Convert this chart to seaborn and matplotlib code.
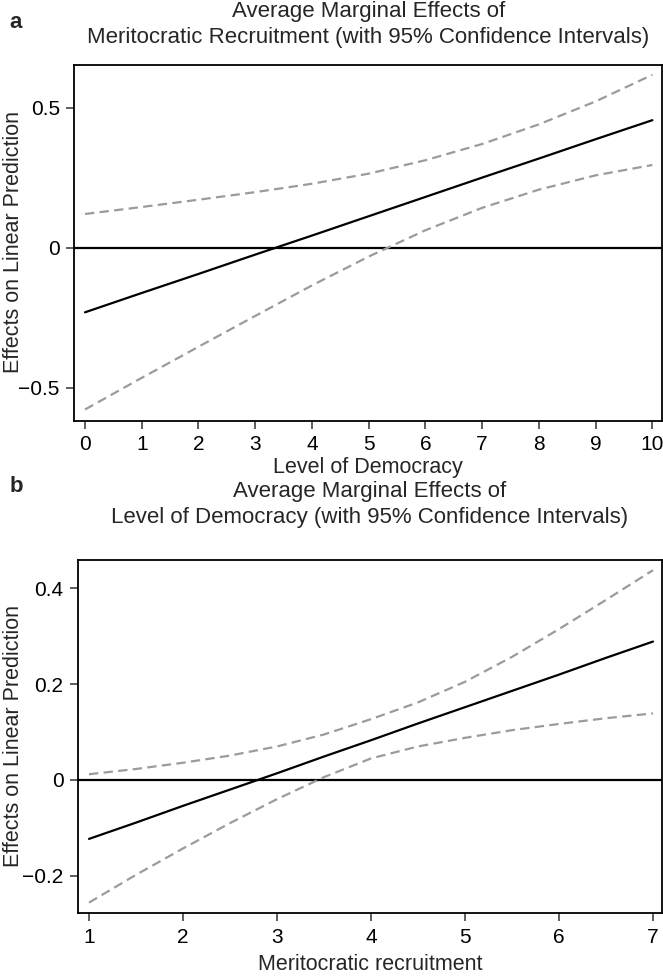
import matplotlib
matplotlib.use("Agg")
import matplotlib.pyplot as plt
import pandas as pd
import seaborn as sns

# ---------------- data ----------------
# Panel a: AME of meritocratic recruitment over level of democracy
democracy = [0, 1, 2, 3, 4, 5, 6, 7, 8, 9, 10]
a_effect = [-0.231, -0.162, -0.094, -0.025, 0.043, 0.112, 0.181, 0.250, 0.318, 0.387, 0.455]
a_upper = [0.120, 0.145, 0.171, 0.198, 0.228, 0.264, 0.312, 0.370, 0.440, 0.522, 0.617]
a_lower = [-0.578, -0.465, -0.354, -0.244, -0.135, -0.032, 0.062, 0.142, 0.207, 0.258, 0.295]

# Panel b: AME of level of democracy over meritocratic recruitment
merit = [1, 1.5, 2, 2.5, 3, 3.5, 4, 4.5, 5, 5.5, 6, 6.5, 7]
b_effect = [-0.123, -0.089, -0.054, -0.020, 0.014, 0.049, 0.083, 0.118, 0.152, 0.186, 0.220, 0.255, 0.289]
b_upper = [0.012, 0.023, 0.036, 0.051, 0.070, 0.095, 0.127, 0.162, 0.205, 0.257, 0.315, 0.376, 0.438]
b_lower = [-0.256, -0.198, -0.143, -0.090, -0.040, 0.006, 0.045, 0.070, 0.088, 0.104, 0.117, 0.129, 0.139]

a_xticks = [0, 1, 2, 3, 4, 5, 6, 7, 8, 9, 10]
a_yticks = [-0.5, 0, 0.5]
a_yticklabels = ["\u22120.5", "0", "0.5"]
b_xticks = [1, 2, 3, 4, 5, 6, 7]
b_yticks = [-0.2, 0, 0.2, 0.4]
b_yticklabels = ["\u22120.2", "0", "0.2", "0.4"]

a_title = ["Average Marginal Effects of",
           "Meritocratic Recruitment (with 95% Confidence Intervals)"]
b_title = ["Average Marginal Effects of",
           "Level of Democracy (with 95% Confidence Intervals)"]
a_xlabel = "Level of Democracy"
b_xlabel = "Meritocratic recruitment"
ylabel = "Effects on Linear Prediction"

# ---------------- styling ----------------
sns.set_theme(style="white")
plt.rcParams["font.family"] = ["Liberation Sans", "DejaVu Sans"]
FS_TITLE = 16
FS_LABEL = 15.5
FS_TICK = 15
GREY = "#9b9b9b"
W, H = 663, 977

fig = plt.figure(figsize=(W / 100, H / 100), dpi=100)


def fx(px):
    return px / W


def fy(py):
    return 1 - py / H


def panel(rect, x, eff, up, lo, xlim, ylim, xticks, yticks, yticklabels,
          xlabel, title, title_y, letter, letter_y, ylabel_y, xlabel_y):
    l, t, r, b = rect
    ax = fig.add_axes([fx(l), fy(b), fx(r - l), (b - t) / H])
    df = pd.DataFrame({"x": x, "effect": eff, "upper": up, "lower": lo})
    ax.axhline(0, color="black", lw=1.6, zorder=1)
    for col in ["upper", "lower"]:
        sns.lineplot(data=df, x="x", y=col, ax=ax, color=GREY, lw=1.6,
                     linestyle=(0, (4.2, 2.4)), errorbar=None, zorder=2)
    sns.lineplot(data=df, x="x", y="effect", ax=ax, color="black", lw=1.6,
                 errorbar=None, zorder=3)
    ax.set_xlim(*xlim)
    ax.set_ylim(*ylim)
    ax.set_xticks(xticks)
    ax.set_xticklabels([str(v) for v in xticks])
    ax.set_yticks(yticks)
    ax.set_yticklabels(yticklabels)
    ax.set_xlabel("")
    ax.set_ylabel("")
    for s in ax.spines.values():
        s.set_visible(True)
        s.set_color("black")
        s.set_linewidth(1.3)
    ax.tick_params(axis="both", which="both", direction="out", length=5.5,
                   width=1.1, color="#333333", labelsize=FS_TICK, pad=5,
                   bottom=True, left=True, labelcolor="black")
    cx = (l + r) / 2
    fig.text(fx(cx), fy(title_y[0]), title[0], ha="center", va="center", fontsize=FS_TITLE)
    fig.text(fx(cx), fy(title_y[1]), title[1], ha="center", va="center", fontsize=FS_TITLE)
    fig.text(fx(16), fy(letter_y), letter, ha="center", va="center",
             fontsize=FS_TITLE, fontweight="bold")
    fig.text(fx(cx), fy(xlabel_y), xlabel, ha="center", va="center", fontsize=FS_LABEL)
    fig.text(fx(14), fy(ylabel_y), ylabel, ha="center", va="center",
             fontsize=FS_LABEL, rotation=90)
    return ax


panel((74.4, 65, 662, 420.7), democracy, a_effect, a_upper, a_lower,
      (-0.187, 10.17), (-0.618, 0.652), a_xticks, a_yticks, a_yticklabels,
      a_xlabel, a_title, (12, 37), "a", 22, 242, 467)

panel((78, 560, 662, 913), merit, b_effect, b_upper, b_lower,
      (0.883, 7.096), (-0.2777, 0.4593), b_xticks, b_yticks, b_yticklabels,
      b_xlabel, b_title, (492, 518), "b", 487, 736, 964)

fig.savefig("out.png", dpi=100)
